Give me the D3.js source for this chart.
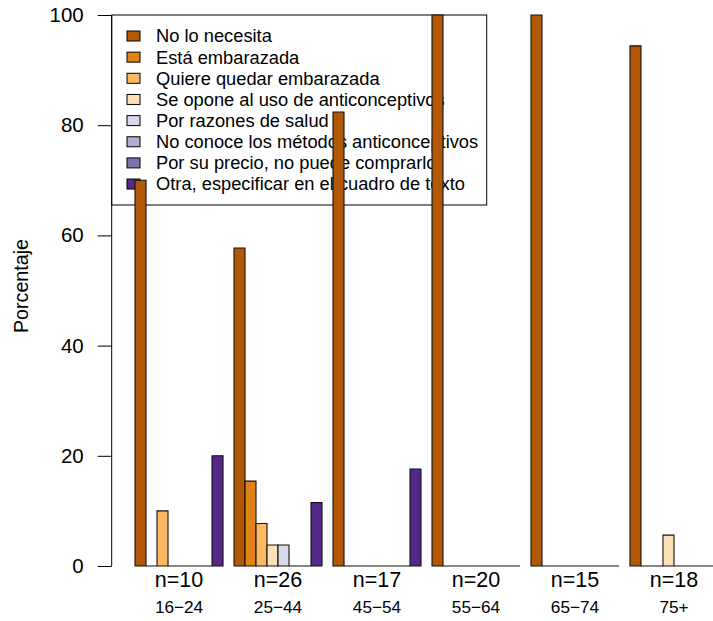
<!DOCTYPE html>
<html>
<head>
<meta charset="utf-8">
<script src="https://cdn.jsdelivr.net/npm/d3@7"></script>
<style>
  html, body { margin: 0; padding: 0; background: #fff; }
  svg { display: block; font-family: "Liberation Sans", Arial, Helvetica, sans-serif; }
</style>
</head>
<body>
<svg id="chart" width="713" height="621"></svg>
<script>
// ---- data ----
const groups = ["16\u221224", "25\u221244", "45\u221254", "55\u221264", "65\u221274", "75+"];
const groupN = ["n=10", "n=26", "n=17", "n=20", "n=15", "n=18"];
const series = [
  "No lo necesita",
  "Está embarazada",
  "Quiere quedar embarazada",
  "Se opone al uso de anticonceptivos",
  "Por razones de salud",
  "No conoce los métodos anticonceptivos",
  "Por su precio, no puede comprarlo",
  "Otra, especificar en el cuadro de texto"
];
const colors = ["#B35806", "#E08214", "#FDB863", "#FEE0B6", "#D8DAEB", "#B2ABD2", "#8073AC", "#542788"];
// values per series (percent), one entry per age group
const noLoNecesita   = [70.0, 57.7, 82.4, 100, 100, 94.4];
const estaEmbarazada = [0, 15.4, 0, 0, 0, 0];
const quiereQuedar   = [10.0, 7.7, 0, 0, 0, 0];
const seOpone        = [0, 3.8, 0, 0, 0, 5.6];
const razonesSalud   = [0, 3.8, 0, 0, 0, 0];
const noConoce       = [0, 0, 0, 0, 0, 0];
const porPrecio      = [0, 0, 0, 0, 0, 0];
const otra           = [20.0, 11.5, 17.6, 0, 0, 0];
const values = [noLoNecesita, estaEmbarazada, quiereQuedar, seOpone, razonesSalud, noConoce, porPrecio, otra];
const yTicks = [0, 20, 40, 60, 80, 100];

// ---- layout (R barplot beside=TRUE style) ----
const nS = series.length, nG = groups.length;
const unitsPerGroup = nS + 1;
const totalUnits = nG * unitsPerGroup; // bars occupy [1, totalUnits]
const ext = 0.04 * (totalUnits - 1);
const x = d3.scaleLinear().domain([1 - ext, totalUnits + ext]).range([111.7, 741.3]);
const y = d3.scaleLinear().domain([0, 100]).range([566, 15]);

const svg = d3.select("#chart");

// legend (drawn first, bars drawn on top as in reference)
const lg = svg.append("g");
lg.append("rect")
  .attr("x", x.range()[0]).attr("y", y(100))
  .attr("width", 486.7 - x.range()[0]).attr("height", 205 - y(100))
  .attr("fill", "white").attr("stroke", "black").attr("stroke-width", 1);
series.forEach((s, i) => {
  const cy = 36 + i * 21.15;
  lg.append("rect").attr("x", 127).attr("y", cy - 5).attr("width", 13).attr("height", 10)
    .attr("fill", colors[i]).attr("stroke", "black").attr("stroke-width", 1);
  lg.append("text").attr("x", 156).attr("y", cy).attr("dy", "0.35em")
    .attr("font-size", 18.3).attr("fill", "black").text(s);
});

// bars (drawn as closed paths so zero-height bars still show their outline)
const bars = [];
groups.forEach((g, gi) => {
  series.forEach((s, si) => {
    bars.push({ g: gi, s: si, v: values[si][gi], u: 1 + gi * unitsPerGroup + si });
  });
});
svg.append("g").selectAll("path").data(bars).join("path")
  .attr("d", d => {
    const x0 = x(d.u), x1 = x(d.u + 1), y0 = y(0), y1 = y(d.v);
    return `M${x0},${y0}H${x1}V${y1}H${x0}Z`;
  })
  .attr("fill", d => colors[d.s])
  .attr("stroke", "#111").attr("stroke-width", 1.1)
  .attr("stroke-linejoin", "miter");

// y axis
const axisX = x.range()[0];
const ax = svg.append("g").attr("transform", `translate(${axisX},0)`)
  .call(d3.axisLeft(y).tickValues(yTicks).tickSize(14).tickPadding(14).tickFormat(d3.format("d")));
ax.select(".domain").attr("d", `M0,${y(0)}V${y(100)}`).attr("stroke", "black");
ax.selectAll(".tick line").attr("stroke", "black");
ax.selectAll(".tick text").attr("font-size", 20.5).attr("fill", "black")
  .attr("font-family", "Liberation Sans, Arial, sans-serif");

svg.append("text")
  .attr("transform", `translate(28,286) rotate(-90)`)
  .attr("text-anchor", "middle").attr("font-size", 19.7).attr("fill", "black")
  .text("Porcentaje");

// group labels
groups.forEach((g, gi) => {
  const cx = x(1 + gi * unitsPerGroup + nS / 2);
  svg.append("text").attr("x", cx).attr("y", 587).attr("text-anchor", "middle")
    .attr("font-size", 21.5).attr("fill", "black").text(groupN[gi]);
  svg.append("text").attr("x", cx).attr("y", 613).attr("text-anchor", "middle")
    .attr("font-size", 17.2).attr("fill", "black").text(g);
});
</script>
</body>
</html>
